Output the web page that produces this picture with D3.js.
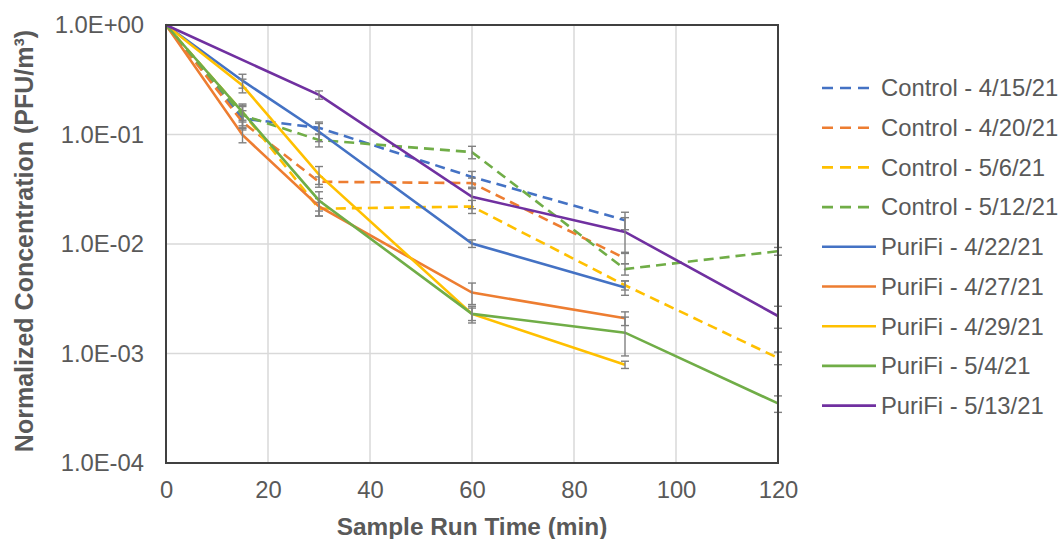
<!DOCTYPE html>
<html>
<head>
<meta charset="utf-8">
<script src="https://cdn.jsdelivr.net/npm/d3@7"></script>
<style>
  html, body { margin: 0; padding: 0; background: #fff; }
  svg { display: block; font-family: "Liberation Sans", Arial, sans-serif; }
</style>
</head>
<body>
<div id="chart"></div>
<script>
// sample times (min)
var times = [0, 15, 30, 60, 90, 120];

var seriesNames = [
  'Control - 4/15/21', 'Control - 4/20/21', 'Control - 5/6/21', 'Control - 5/12/21',
  'PuriFi - 4/22/21', 'PuriFi - 4/27/21', 'PuriFi - 4/29/21', 'PuriFi - 5/4/21', 'PuriFi - 5/13/21'
];

// normalized concentrations, null = not sampled
var control0415 = [1, 0.14, 0.115, 0.041, 0.0165, null];
var control0420 = [1, 0.13, 0.037, 0.036, 0.0074, null];
var control0506 = [1, 0.16, 0.021, 0.022, 0.0042, 0.00091];
var control0512 = [1, 0.15, 0.089, 0.069, 0.0059, 0.0086];
var purifi0422  = [1, 0.31, 0.106, 0.0101, 0.0040, null];
var purifi0427  = [1, 0.099, 0.022, 0.0036, 0.0021, null];
var purifi0429  = [1, 0.28, 0.043, 0.0023, 0.00079, null];
var purifi0504  = [1, 0.16, 0.025, 0.0023, 0.00155, 0.00035];
var purifi0513  = [1, null, 0.23, 0.027, 0.0129, 0.0022];

// +/- error (same units)
var control0415Err = [0, 0.025, 0.015, 0.005, 0.003, null];
var control0420Err = [0, 0.02, 0.004, 0.004, 0.0008, null];
var control0506Err = [0, 0.025, 0.003, 0.003, 0.0004, 0.00012];
var control0512Err = [0, 0.03, 0.012, 0.009, 0.0007, 0.0007];
var purifi0422Err  = [0, 0.045, 0.02, 0.0008, 0.0006, null];
var purifi0427Err  = [0, 0.015, 0.004, 0.0008, 0.0003, null];
var purifi0429Err  = [0, 0.04, 0.008, 0.0003, 0.00006, null];
var purifi0504Err  = [0, 0.03, 0.005, 0.0004, 0.0006, 0.00006];
var purifi0513Err  = [0, null, 0.02, 0.006, 0.0045, 0.0005];

var seriesColors = ['#4472C4', '#ED7D31', '#FFC000', '#70AD47',
                    '#4472C4', '#ED7D31', '#FFC000', '#70AD47', '#7030A0'];
var seriesDashed = [true, true, true, true, false, false, false, false, false];

var xTicks = [0, 20, 40, 60, 80, 100, 120];
var yTicks = [1, 1e-1, 1e-2, 1e-3, 1e-4];

(function(d3) {

  'use strict';

  var Chart = function(element, series) {
    this.element = element;
    this.series = series;
    this.svg = null;
    this.width = 1064;
    this.height = 539;
    this.margin = { left: 166, top: 25, right: 286, bottom: 76 };
  };

  Chart.prototype = {

    init: function() {
      this.setSvg();
      this.setScales();
      this.drawGrid();
      this.drawSeries();
      this.drawFrame();
      this.drawAxes();
      this.drawLegend();
    },

    setSvg: function() {
      this.svg = d3.select(this.element)
        .append('svg')
        .attr('width', this.width)
        .attr('height', this.height);
    },

    setScales: function() {
      var m = this.margin;
      this.x = d3.scaleLinear().domain([0, 120]).range([m.left, this.width - m.right]);
      this.y = d3.scaleLog().domain([1e-4, 1]).range([this.height - m.bottom, m.top]);
    },

    drawGrid: function() {
      var x = this.x, y = this.y;
      var g = this.svg.append('g').attr('class', 'grid');
      g.selectAll('.vx').data(xTicks.slice(1, -1)).enter().append('line')
        .attr('x1', x).attr('x2', x)
        .attr('y1', y.range()[0]).attr('y2', y.range()[1])
        .style('stroke', '#d9d9d9').style('stroke-width', 1.5);
      g.selectAll('.hy').data(yTicks.slice(1, -1)).enter().append('line')
        .attr('y1', y).attr('y2', y)
        .attr('x1', x.range()[0]).attr('x2', x.range()[1])
        .style('stroke', '#d9d9d9').style('stroke-width', 1.5);
    },

    drawSeries: function() {
      var x = this.x, y = this.y;
      var line = d3.line()
        .defined(function(d) { return d.v !== null; })
        .x(function(d) { return x(d.t); })
        .y(function(d) { return y(d.v); });

      this.series.forEach(function(s) {
        var pts = s.values.map(function(v, i) {
          return { t: times[i], v: v, e: s.errors[i] };
        }).filter(function(d) { return d.v !== null; });

        var g = this.svg.append('g');

        g.append('path')
          .datum(pts)
          .attr('d', line)
          .style('fill', 'none')
          .style('stroke', s.color)
          .style('stroke-width', 2.6)
          .style('stroke-dasharray', s.dashed ? '10,6' : null);

        var bars = g.selectAll('.err')
          .data(pts.filter(function(d) { return d.e; }))
          .enter().append('g')
          .style('stroke', '#808080')
          .style('stroke-width', 1.4);

        bars.append('line')
          .attr('x1', function(d) { return x(d.t); })
          .attr('x2', function(d) { return x(d.t); })
          .attr('y1', function(d) { return y(d.v + d.e); })
          .attr('y2', function(d) { return y(Math.max(d.v - d.e, 1e-5)); });
        bars.append('line')
          .attr('x1', function(d) { return x(d.t) - 4; })
          .attr('x2', function(d) { return x(d.t) + 4; })
          .attr('y1', function(d) { return y(d.v + d.e); })
          .attr('y2', function(d) { return y(d.v + d.e); });
        bars.append('line')
          .attr('x1', function(d) { return x(d.t) - 4; })
          .attr('x2', function(d) { return x(d.t) + 4; })
          .attr('y1', function(d) { return y(d.v - d.e); })
          .attr('y2', function(d) { return y(d.v - d.e); });
      }.bind(this));
    },

    drawFrame: function() {
      var x = this.x, y = this.y;
      this.svg.append('rect')
        .attr('x', x.range()[0]).attr('y', y.range()[1])
        .attr('width', x.range()[1] - x.range()[0])
        .attr('height', y.range()[0] - y.range()[1])
        .style('fill', 'none')
        .style('stroke', '#404040')
        .style('stroke-width', 2);
    },

    formatExp: function(v) {
      var e = Math.round(Math.log10(v));
      var a = Math.abs(e);
      return '1.0E' + (e < 0 ? '-' : '+') + (a < 10 ? '0' : '') + a;
    },

    drawAxes: function() {
      var x = this.x, y = this.y;
      var xAxis = d3.axisBottom(x).tickValues(xTicks).tickSize(0).tickPadding(18);
      var yAxis = d3.axisLeft(y).tickValues(yTicks).tickSize(0).tickPadding(22)
        .tickFormat(this.formatExp);

      var gx = this.svg.append('g')
        .attr('transform', 'translate(0,' + y.range()[0] + ')')
        .call(xAxis);
      var gy = this.svg.append('g')
        .attr('transform', 'translate(' + x.range()[0] + ',0)')
        .call(yAxis);

      [gx, gy].forEach(function(g) {
        g.select('.domain').remove();
        g.selectAll('text')
          .style('font-size', '23.8px')
          .style('fill', '#595959')
          .style('font-family', '"Liberation Sans", Arial, sans-serif');
      });

      this.svg.append('text')
        .attr('x', (x.range()[0] + x.range()[1]) / 2)
        .attr('y', 535)
        .attr('text-anchor', 'middle')
        .style('font-size', '24.4px')
        .style('font-weight', 'bold')
        .style('fill', '#595959')
        .text('Sample Run Time (min)');

      this.svg.append('text')
        .attr('transform', 'translate(33,' + 241 + ') rotate(-90)')
        .attr('text-anchor', 'middle')
        .style('font-size', '25px')
        .style('font-weight', 'bold')
        .style('fill', '#595959')
        .text('Normalized Concentration (PFU/m³)');
    },

    drawLegend: function() {
      var rows = this.svg.append('g').selectAll('g')
        .data(this.series)
        .enter().append('g')
        .attr('transform', function(d, i) {
          return 'translate(822,' + (88 + i * 39.7) + ')';
        });

      rows.append('line')
        .attr('x1', 0).attr('x2', 54)
        .style('stroke', function(d) { return d.color; })
        .style('stroke-width', 2.6)
        .style('stroke-dasharray', function(d) { return d.dashed ? '11,7' : null; });

      rows.append('text')
        .attr('x', 59)
        .attr('dy', '0.35em')
        .style('font-size', '23.8px')
        .style('fill', '#595959')
        .text(function(d) { return d.name; });
    }
  };

  var allValues = [control0415, control0420, control0506, control0512,
                   purifi0422, purifi0427, purifi0429, purifi0504, purifi0513];
  var allErrors = [control0415Err, control0420Err, control0506Err, control0512Err,
                   purifi0422Err, purifi0427Err, purifi0429Err, purifi0504Err, purifi0513Err];

  var series = seriesNames.map(function(name, i) {
    return {
      name: name,
      values: allValues[i],
      errors: allErrors[i],
      color: seriesColors[i],
      dashed: seriesDashed[i]
    };
  });

  var app = new Chart('#chart', series);
  app.init();

})(d3);
</script>
</body>
</html>
